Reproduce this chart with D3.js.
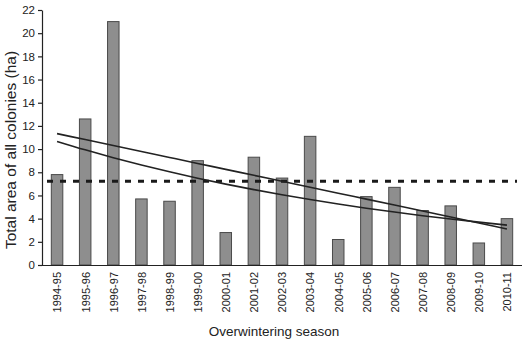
<!DOCTYPE html>
<html>
<head>
<meta charset="utf-8">
<script src="https://cdn.jsdelivr.net/npm/d3@7"></script>
<style>
  html, body { margin: 0; padding: 0; background: #fff; }
  svg { display: block; }
  text { font-family: "Liberation Sans", Arial, Helvetica, sans-serif; fill: #222; }
</style>
</head>
<body>
<svg id="chart" width="525" height="346"></svg>
<script>
// ---- Data ----
const seasons = ["1994-95","1995-96","1996-97","1997-98","1998-99","1999-00","2000-01","2001-02","2002-03","2003-04","2004-05","2005-06","2006-07","2007-08","2008-09","2009-10","2010-11"];
const areaHa = [7.8, 12.6, 21.0, 5.7, 5.5, 9.0, 2.8, 9.3, 7.5, 11.1, 2.2, 5.9, 6.7, 4.7, 5.1, 1.9, 4.0];
const yTicks = [0, 2, 4, 6, 8, 10, 12, 14, 16, 18, 20, 22];
const yLabel = "Total area of all colonies (ha)";
const xLabel = "Overwintering season";

// ---- Derived statistics: mean, linear fit, exponential (log-linear) fit ----
const idx = areaHa.map((_, i) => i + 1);
const mean = d3.mean(areaHa);
function fit(xs, ys) {
  const mx = d3.mean(xs), my = d3.mean(ys);
  const b = d3.sum(xs, (x, i) => (x - mx) * (ys[i] - my)) / d3.sum(xs, x => (x - mx) * (x - mx));
  return { a: my - b * mx, b };
}
const lin = fit(idx, areaHa);
const logf = fit(idx, areaHa.map(Math.log));
const linTrend = idx.map(i => lin.a + lin.b * i);
const expTrend = idx.map(i => Math.exp(logf.a + logf.b * i));

// ---- Layout ----
const svg = d3.select("#chart");
const axisX = 42, y0 = 265, yTop = 10;

const x = d3.scalePoint().domain(seasons).range([43, 521]).padding(0.5);
const y = d3.scaleLinear().domain([0, 22]).range([y0, yTop]);
const barW = 11.5;

// Bars
svg.append("g").selectAll("rect").data(areaHa).join("rect")
  .attr("x", (d, i) => x(seasons[i]) - barW / 2)
  .attr("y", d => y(d))
  .attr("width", barW)
  .attr("height", d => y0 - y(d))
  .attr("fill", "#8e8e8e")
  .attr("stroke", "#4a4a4a")
  .attr("stroke-width", 1);

// Mean dashed line
svg.append("line")
  .attr("x1", 47).attr("x2", 517)
  .attr("y1", y(mean)).attr("y2", y(mean))
  .attr("stroke", "#1a1a1a")
  .attr("stroke-width", 3)
  .attr("stroke-dasharray", "6,7");

// Trend lines
const lineGen = d3.line()
  .x((d, i) => x(seasons[i]))
  .y(d => y(d))
  .curve(d3.curveMonotoneX);
[linTrend, expTrend].forEach(s => {
  svg.append("path").attr("d", lineGen(s))
    .attr("fill", "none").attr("stroke", "#222").attr("stroke-width", 1.6);
});

// Y axis
const yAxis = svg.append("g").attr("transform", `translate(${axisX},0)`)
  .call(d3.axisLeft(y).tickValues(yTicks).tickSize(4).tickPadding(3).tickSizeOuter(0));
yAxis.select(".domain").attr("stroke", "#222").attr("stroke-width", 1.2);
yAxis.selectAll(".tick line").attr("stroke", "#222").attr("stroke-width", 1.2);
yAxis.selectAll("text").style("font-size", "11.5px").attr("fill", "#222");

// X axis
const xAxis = svg.append("g").attr("transform", `translate(0,${y0})`)
  .call(d3.axisBottom(x).tickSize(0).tickSizeOuter(0));
xAxis.select(".domain").attr("d", `M${axisX},0.5H522`).attr("stroke", "#222").attr("stroke-width", 1.2);
xAxis.selectAll("text")
  .style("font-size", "11px")
  .attr("fill", "#222")
  .attr("text-anchor", "end")
  .attr("transform", "rotate(-90)")
  .attr("x", -7)
  .attr("y", 0)
  .attr("dy", "0.35em");

// Axis titles
svg.append("text")
  .attr("transform", `translate(16,150) rotate(-90)`)
  .attr("text-anchor", "middle")
  .style("font-size", "15.5px")
  .text(yLabel);

svg.append("text")
  .attr("x", 274).attr("y", 336)
  .attr("text-anchor", "middle")
  .style("font-size", "13.5px")
  .text(xLabel);
</script>
</body>
</html>
